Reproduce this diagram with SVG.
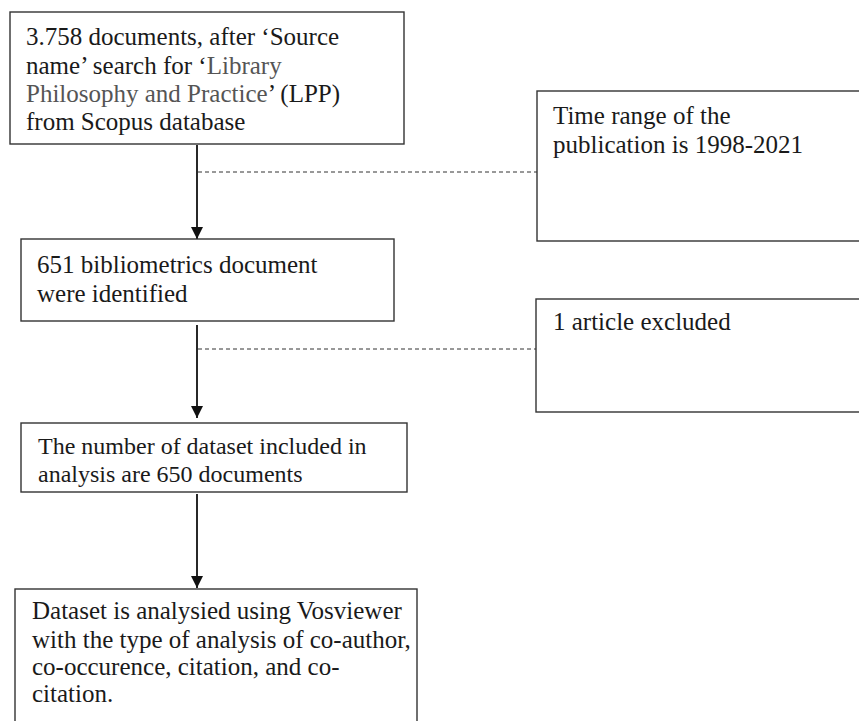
<svg xmlns="http://www.w3.org/2000/svg" width="859" height="721" viewBox="0 0 859 721">
  <defs>
    <marker id="arrow" markerUnits="userSpaceOnUse" markerWidth="12" markerHeight="13" viewBox="0 0 12 13" refX="12" refY="6" orient="auto">
      <path d="M0,0 L12,6 L0,12 Z" fill="#111"/>
    </marker>
    <style>
      .box { fill: #fff; stroke: #333; stroke-width: 1.4; }
      .t { font-family: "Liberation Serif", "Times New Roman", serif; font-size: 25px; fill: #1a1a1a; }
      .grey { fill: #555; }
      .flow { stroke: #111; stroke-width: 1.8; fill: none; marker-end: url(#arrow); }
      .dash { stroke: #333; stroke-width: 1; stroke-dasharray: 4 3; fill: none; }
    </style>
  </defs>
  <rect width="859" height="721" fill="#fff"/>

  <g id="connectors">
    <line class="flow" x1="197" y1="145" x2="197" y2="239"/>
    <line class="flow" x1="197" y1="325" x2="197" y2="418"/>
    <line class="flow" x1="197" y1="494" x2="197" y2="588"/>
    <line class="dash" x1="198" y1="172" x2="537" y2="172"/>
    <line class="dash" x1="198" y1="349" x2="536" y2="349"/>
  </g>

  <g id="n1">
    <rect class="box" x="10" y="12" width="394" height="132"/>
    <text class="t" x="26" y="45">3.758 documents, after ‘Source</text>
    <text class="t" x="26" y="74">name’ search for ‘<tspan class="grey">Library</tspan></text>
    <text class="t" x="26" y="102"><tspan class="grey">Philosophy and Practice</tspan>’ (LPP)</text>
    <text class="t" x="26" y="130">from Scopus database</text>
  </g>

  <g id="n2">
    <rect class="box" x="537" y="91" width="340" height="150"/>
    <text class="t" x="553" y="124">Time range of the</text>
    <text class="t" x="553" y="153">publication is 1998-2021</text>
  </g>

  <g id="n3">
    <rect class="box" x="21" y="239" width="373" height="82"/>
    <text class="t" x="37" y="273">651 bibliometrics document</text>
    <text class="t" x="37" y="302">were identified</text>
  </g>

  <g id="n4">
    <rect class="box" x="536" y="299" width="340" height="113"/>
    <text class="t" x="553" y="330">1 article excluded</text>
  </g>

  <g id="n5">
    <rect class="box" x="21" y="423" width="386" height="69"/>
    <text class="t" x="38" y="454" style="font-size:24px">The number of dataset included in</text>
    <text class="t" x="38" y="482" style="font-size:24px">analysis are 650 documents</text>
  </g>

  <g id="n6">
    <rect class="box" x="15" y="589" width="402" height="160"/>
    <text class="t" x="32" y="619">Dataset is analysied using Vosviewer</text>
    <text class="t" x="32" y="648">with the type of analysis of co-author,</text>
    <text class="t" x="32" y="675">co-occurence, citation, and co-</text>
    <text class="t" x="32" y="702">citation.</text>
  </g>
</svg>
